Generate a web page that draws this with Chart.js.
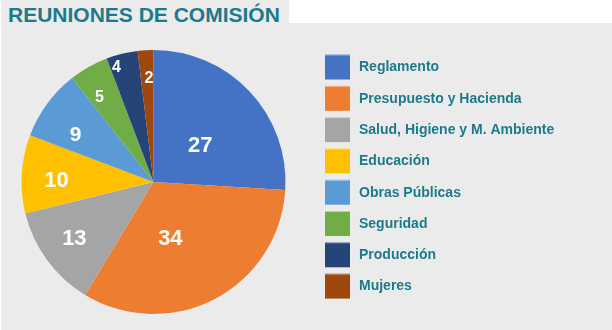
<!DOCTYPE html>
<html>
<head>
<meta charset="utf-8">
<script src="https://cdn.jsdelivr.net/npm/chart.js@4/dist/chart.umd.min.js"></script>
<style>
  body { margin: 0; background: #fff; }
  #marco { position: relative; width: 612px; height: 330px; overflow: hidden; }
  #pestana { position: absolute; left: 1px; top: 0; width: 288px; height: 23px; background: #ebebeb; }
  #panel { position: absolute; left: 1px; top: 23px; width: 611px; height: 307px; background: #ebebeb; }
  #titulo { position: absolute; left: 8px; top: 4px; font: bold 21px "Liberation Sans", Arial, sans-serif; line-height: 21px; color: #1c7a8c; white-space: nowrap; }
  #grafico { position: absolute; left: 0; top: 0; }
</style>
</head>
<body>
<div id="marco">
  <div id="pestana"></div>
  <div id="panel"></div>
  <div id="titulo">REUNIONES DE COMISIÓN</div>
  <canvas id="grafico" width="612" height="330"></canvas>
</div>
<script>
// comisiones y cantidad de reuniones
const comisiones = ['Reglamento', 'Presupuesto y Hacienda', 'Salud, Higiene y M. Ambiente', 'Educación', 'Obras Públicas', 'Seguridad', 'Producción', 'Mujeres'];
const reuniones = [27, 34, 13, 10, 9, 5, 4, 2];
const colores = ['#4472c4', '#ed7d31', '#a5a5a5', '#ffc000', '#5b9bd5', '#70ad47', '#264478', '#9e480e'];

// ubicacion de las etiquetas: fraccion del radio, giro en grados, tamaño de letra
const etqRadio = [0.45, 0.445, 0.735, 0.736, 0.69, 0.763, 0.915, 0.79];
const etqGiro = [5, 11, 1, -2, -5, -3, -4, 1];
const etqTam = [22, 22, 22, 22, 21, 16, 16, 16];

const colorTexto = '#1c7a8c';

const etiquetas = {
    id: 'etiquetas',
    afterDatasetsDraw(chart) {
        const ctx = chart.ctx;
        const arcos = chart.getDatasetMeta(0).data;
        ctx.save();
        ctx.fillStyle = '#ffffff';
        ctx.textAlign = 'center';
        ctx.textBaseline = 'middle';
        arcos.forEach(function (arco, i) {
            const p = arco.getProps(['x', 'y', 'startAngle', 'endAngle', 'outerRadius'], true);
            const ang = (p.startAngle + p.endAngle) / 2 + etqGiro[i] * Math.PI / 180;
            const r = p.outerRadius * etqRadio[i];
            ctx.font = 'bold ' + etqTam[i] + 'px "Liberation Sans", Arial, sans-serif';
            ctx.fillText(chart.data.datasets[0].data[i], p.x + Math.cos(ang) * r, p.y + Math.sin(ang) * r + 1);
        });
        ctx.restore();
    }
};

const leyenda = {
    id: 'leyenda',
    afterDraw(chart) {
        const ctx = chart.ctx;
        const ds = chart.data.datasets[0];
        ctx.save();
        ctx.textAlign = 'left';
        ctx.textBaseline = 'middle';
        ctx.font = 'bold 14px "Liberation Sans", Arial, sans-serif';
        chart.data.labels.forEach(function (txt, i) {
            const y = 54.5 + i * 31.3;
            ctx.fillStyle = ds.backgroundColor[i];
            ctx.fillRect(325, y, 25, 25);
            ctx.fillStyle = 'rgba(255,255,255,0.5)';
            ctx.fillRect(325, y, 25, 1);
            ctx.fillStyle = colorTexto;
            ctx.fillText(txt, 359, y + 13);
        });
        ctx.restore();
    }
};

new Chart(document.getElementById('grafico'), {
    type: 'pie',
    data: {
        labels: comisiones,
        datasets: [{
            data: reuniones,
            backgroundColor: colores,
            borderWidth: 0
        }]
    },
    options: {
        responsive: false,
        animation: false,
        layout: {
            padding: { left: 21.5, top: 50, right: 326.5, bottom: 16 }
        },
        plugins: {
            legend: { display: false },
            tooltip: { enabled: false }
        }
    },
    plugins: [etiquetas, leyenda]
});
</script>
</body>
</html>
